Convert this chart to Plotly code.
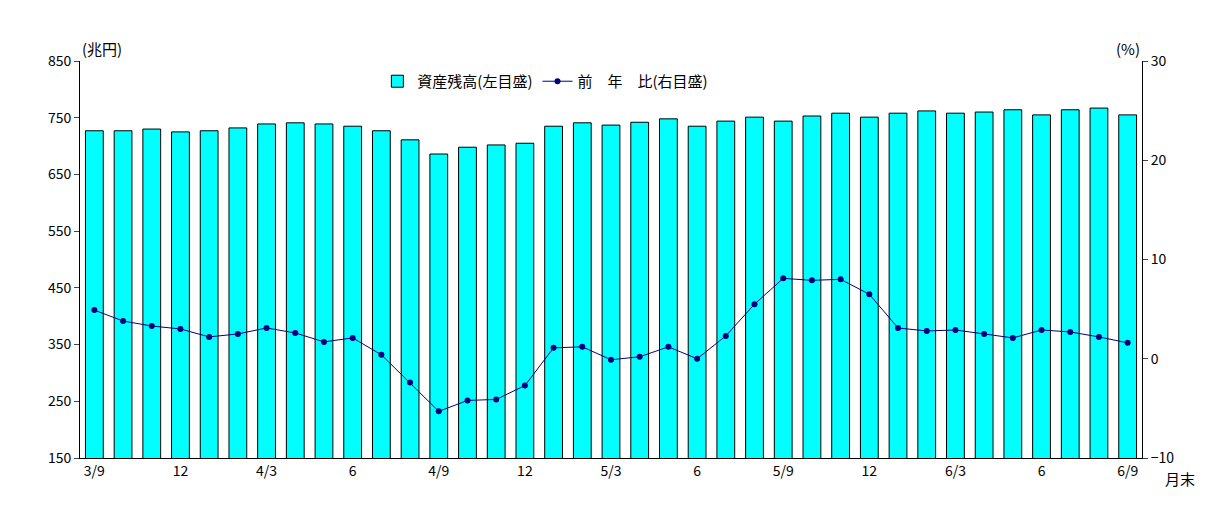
import plotly.graph_objects as go

months = ["3/9","3/10","3/11","12","4/1","4/2","4/3","4/4","4/5","6","4/7","4/8","4/9","4/10","4/11","12",
          "5/1","5/2","5/3","5/4","5/5","6","5/7","5/8","5/9","5/10","5/11","12","6/1","6/2","6/3","6/4","6/5","6","6/7","6/8","6/9"]
tick_labels = ["3/9","12","4/3","6","4/9","12","5/3","6","5/9","12","6/3","6","6/9"]
assets = [727,727,730,725,727,732,739,741,739,735,727,711,686,698,702,705,735,741,737,742,748,735,744,751,744,753,758,751,758,762,758,760,764,755,764,767,755]
yoy = [4.9,3.8,3.3,3.0,2.2,2.5,3.1,2.6,1.7,2.1,0.4,-2.4,-5.3,-4.2,-4.1,-2.7,1.1,1.2,-0.1,0.2,1.2,0.0,2.3,5.5,8.1,7.9,8.0,6.5,3.1,2.8,2.9,2.5,2.1,2.9,2.7,2.2,1.6]

x = list(range(len(months)))
font = "Noto Sans CJK JP"
fig = go.Figure()
fig.add_trace(go.Bar(x=x, y=assets, name="資産残高(左目盛)", marker=dict(color="#00FFFF", line=dict(color="black", width=1)),
                     width=0.62))
fig.add_trace(go.Scatter(x=x, y=yoy, name="前　年　比(右目盛)", yaxis="y2", mode="lines+markers",
                         line=dict(color="#000080", width=1), marker=dict(color="#000080", size=6)))
fig.update_layout(
    width=1218, height=526, margin=dict(l=72, r=84, t=53, b=76),
    plot_bgcolor="white", paper_bgcolor="white", font=dict(family=font, size=14, color="black"),
    showlegend=True,
    legend=dict(orientation="h", x=0.28, y=0.99, xanchor="left", yanchor="top", bgcolor="rgba(0,0,0,0)", font=dict(size=15)),
    xaxis=dict(range=[-0.5, 36.5], tickmode="array", tickvals=[i for i in x if i % 3 == 0], ticktext=tick_labels,
               showline=True, linecolor="black", ticks="", showgrid=False),
    yaxis=dict(range=[150, 850], tickvals=list(range(150, 851, 100)), showline=True, linecolor="black",
               ticks="outside", ticklen=5, showgrid=False, zeroline=False),
    yaxis2=dict(range=[-10, 30], tickvals=[-10, 0, 10, 20, 30], overlaying="y", side="right", showline=True,
                linecolor="black", ticks="outside", ticklen=5, showgrid=False, zeroline=False),
    annotations=[
        dict(text="(兆円)", xref="paper", yref="paper", x=0.0, y=1.0, xanchor="left", yanchor="bottom", showarrow=False, font=dict(size=15)),
        dict(text="(%)", xref="paper", yref="paper", x=1.0, y=1.0, xanchor="right", yanchor="bottom", showarrow=False, font=dict(size=15)),
        dict(text="月末", xref="paper", yref="paper", x=1.02, y=-0.02, xanchor="left", yanchor="top", showarrow=False, font=dict(size=15)),
    ],
)
fig.write_html("out.html")
